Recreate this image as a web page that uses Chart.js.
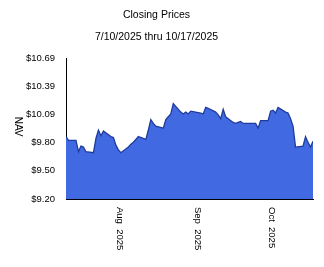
<!DOCTYPE html>
<html>
<head>
<meta charset="utf-8">
<title>Closing Prices</title>
<script src="https://cdn.jsdelivr.net/npm/chart.js"></script>
<style>
  html, body { margin: 0; padding: 0; background: #fff; }
  #wrap { width: 324px; height: 267px; }
</style>
</head>
<body>
<div id="wrap"><canvas id="navChart" width="324" height="267"></canvas></div>
<script>
// trading days and closing NAV
const dates = [
  '2025-07-10','2025-07-11','2025-07-14','2025-07-15','2025-07-16','2025-07-17','2025-07-18',
  '2025-07-21','2025-07-22','2025-07-23','2025-07-24','2025-07-25','2025-07-28','2025-07-29',
  '2025-07-30','2025-07-31','2025-08-01','2025-08-04','2025-08-05','2025-08-06','2025-08-07',
  '2025-08-08','2025-08-11','2025-08-12','2025-08-13','2025-08-14','2025-08-15','2025-08-18',
  '2025-08-19','2025-08-20','2025-08-21','2025-08-22','2025-08-25','2025-08-26','2025-08-27',
  '2025-08-28','2025-08-29','2025-09-02','2025-09-03','2025-09-04','2025-09-05','2025-09-08',
  '2025-09-09','2025-09-10','2025-09-11','2025-09-12','2025-09-15','2025-09-16','2025-09-17',
  '2025-09-18','2025-09-19','2025-09-22','2025-09-23','2025-09-24','2025-09-25','2025-09-26',
  '2025-09-29','2025-09-30','2025-10-01','2025-10-02','2025-10-03','2025-10-06','2025-10-07',
  '2025-10-08','2025-10-09','2025-10-10','2025-10-13','2025-10-14','2025-10-15','2025-10-16',
  '2025-10-17'
];
const nav = [
  9.86, 9.82, 9.82, 9.70, 9.76, 9.75, 9.70,
  9.69, 9.84, 9.93, 9.87, 9.92, 9.86, 9.85,
  9.77, 9.72, 9.69, 9.75, 9.78, 9.80, 9.83,
  9.86, 9.83, 9.93, 10.04, 10.00, 9.97, 9.95,
  10.04, 10.07, 10.10, 10.21, 10.12, 10.10, 10.12,
  10.10, 10.13, 10.11, 10.10, 10.17, 10.16, 10.12,
  10.09, 10.05, 10.15, 10.07, 10.01, 10.00, 10.01,
  10.02, 10.00, 10.00, 10.00, 10.00, 9.95, 10.03,
  10.03, 10.13, 10.14, 10.11, 10.17, 10.12, 10.11,
  10.05, 9.97, 9.75, 9.76, 9.86, 9.80, 9.75,
  9.81
];
const yTickLabels = ['$9.20', '$9.50', '$9.80', '$10.09', '$10.39', '$10.69'];
const yMin = 9.20;
const yMax = 10.69;
const monthDates = ['2025-08-01', '2025-09-01', '2025-10-01'];
const monthLabels = ['Aug  2025', 'Sep  2025', 'Oct  2025'];

const DAY = 86400000;
const t0 = Date.parse(dates[0]);
const dayOf = d => Math.round((Date.parse(d) - t0) / DAY);

const FONT = 'Liberation Sans, Arial, sans-serif';

// rotated labels (read top to bottom) for the months and the y title
const sideText = {
  id: 'sideText',
  afterDraw(chart) {
    const ctx = chart.ctx;
    const xs = chart.scales.x;
    const area = chart.chartArea;
    ctx.save();
    ctx.fillStyle = '#000';
    ctx.font = '9.5px ' + FONT;
    ctx.textAlign = 'left';
    ctx.textBaseline = 'middle';
    monthDates.forEach((d, i) => {
      const x = xs.getPixelForValue(dayOf(d));
      ctx.save();
      ctx.translate(x - 1, area.bottom + 8);
      ctx.rotate(Math.PI / 2);
      ctx.fillText(monthLabels[i], 0, 0);
      ctx.restore();
    });
    ctx.font = '10px ' + FONT;
    ctx.textAlign = 'center';
    ctx.translate(17.5, (area.top + area.bottom) / 2 - 2);
    ctx.rotate(Math.PI / 2);
    ctx.fillText('NAV', 0, 0);
    ctx.restore();
  }
};

new Chart(document.getElementById('navChart'), {
  type: 'line',
  data: {
    datasets: [{
      label: 'NAV',
      data: dates.map((d, i) => ({ x: dayOf(d), y: nav[i] })),
      borderColor: '#1f3c9c',
      backgroundColor: '#4169e1',
      borderWidth: 1.3,
      fill: 'start',
      pointRadius: 0,
      tension: 0
    }]
  },
  options: {
    responsive: false,
    animation: false,
    layout: { padding: { left: 0, right: 11, top: 0, bottom: 0 } },
    plugins: {
      legend: { display: false },
      tooltip: { enabled: false },
      title: {
        display: true,
        text: 'Closing Prices',
        color: '#000',
        font: { family: FONT, size: 10.5, weight: 'normal' },
        padding: { top: 9, bottom: 9 }
      },
      subtitle: {
        display: true,
        text: '7/10/2025 thru 10/17/2025',
        color: '#000',
        font: { family: FONT, size: 10.5, weight: 'normal' },
        padding: { top: 0, bottom: 15 }
      }
    },
    scales: {
      x: {
        type: 'linear',
        min: 0,
        max: dayOf(dates[dates.length - 1]),
        grid: { display: false },
        border: { display: true, color: '#000', width: 1 },
        ticks: { display: false },
        afterFit(scale) { scale.height = 68; }
      },
      y: {
        min: yMin,
        max: yMax,
        grid: { display: false },
        border: { display: true, color: '#000', width: 1 },
        afterBuildTicks(scale) {
          const n = yTickLabels.length - 1;
          scale.ticks = yTickLabels.map((_, i) => ({ value: yMin + (yMax - yMin) * i / n }));
        },
        ticks: {
          color: '#000',
          padding: 3,
          font: { family: FONT, size: 9.5 },
          callback: (v, i) => yTickLabels[i]
        },
        afterFit(scale) { scale.width = 66; }
      }
    }
  },
  plugins: [sideText]
});
</script>
</body>
</html>
